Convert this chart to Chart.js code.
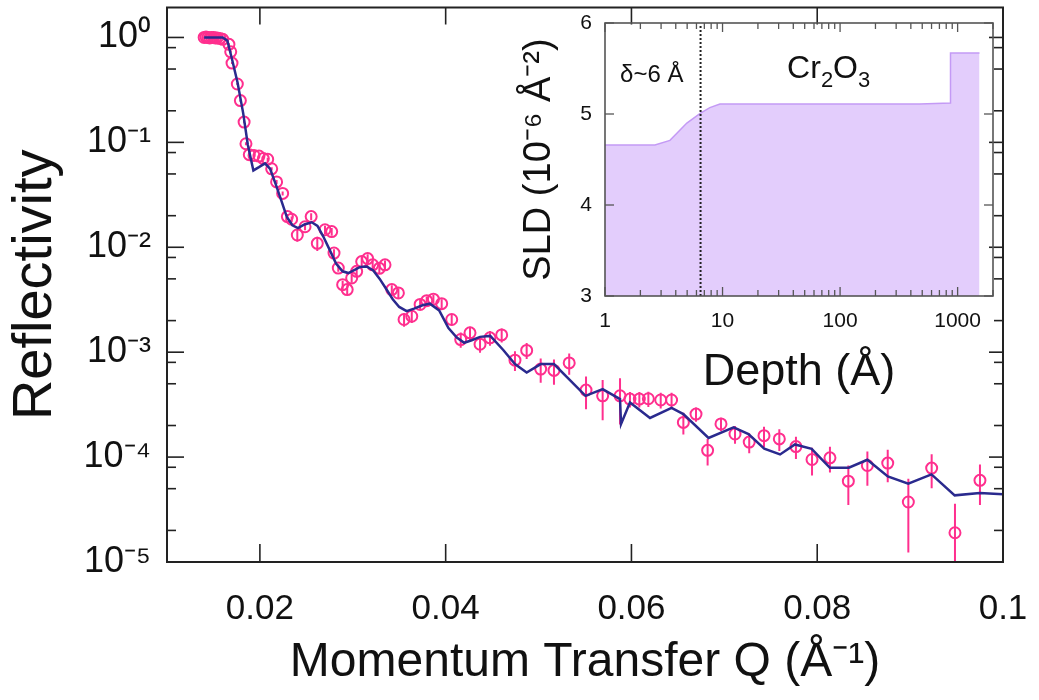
<!DOCTYPE html>
<html><head><meta charset="utf-8">
<script src="https://cdn.jsdelivr.net/npm/chart.js@4.4.0/dist/chart.umd.min.js"></script>
<style>
html,body{margin:0;padding:0;background:#fff;}
#wrap{position:relative;width:1039px;height:700px;overflow:hidden;}
#main{position:absolute;left:0;top:0;}
#inset{position:absolute;left:500px;top:0;}
</style></head><body>
<div id="wrap"><canvas id="main" width="1039" height="700"></canvas><canvas id="inset" width="539" height="420"></canvas></div>
<script>
// ---- main plot data: measured reflectivity ----
const qData = [0.0140,0.0142,0.0144,0.0146,0.0148,0.0150,0.0152,0.0154,0.0157,0.0160,
  0.01667,0.01686,0.0170,0.01757,0.0179,0.0183,0.0185,0.01886,0.01937,0.0199,
  0.02037,0.02084,0.02127,0.0218,0.02245,0.02296,0.02342,0.02403,0.02486,0.02552,
  0.02618,0.02701,0.02773,0.02798,0.02844,0.02891,0.0294,0.02988,0.03042,0.03096,
  0.0316,0.03214,0.03286,0.03347,0.0342,0.03491,0.03552,0.03635,0.03725,0.03796,
  0.03868,0.03957,0.04065,0.04162,0.04262,0.0437,0.04477,0.04603,0.04746,0.04872,
  0.05023,0.05166,0.0533,0.05511,0.0569,0.05877,0.05984,0.06085,0.06182,0.06315,
  0.06432,0.06559,0.06695,0.0682,0.06964,0.07115,0.07268,0.07427,0.07592,0.07771,
  0.07944,0.08137,0.08335,0.0854,0.08759,0.08981,0.09232,0.09483,0.09752];
const rData = [1.00,1.01,1.00,0.99,1.00,1.00,0.99,0.99,0.98,0.96,
  0.86,0.73,0.57,0.36,0.25,0.156,0.097,0.0764,0.075,0.074,
  0.070,0.069,0.056,0.042,0.0326,0.0196,0.0185,0.0131,0.0157,0.0196,
  0.0109,0.0147,0.0141,0.0088,0.00634,0.0044,0.00395,0.0051,0.0059,0.0073,
  0.0078,0.0068,0.0063,0.0068,0.00395,0.00367,0.00205,0.0022,0.00285,0.0031,
  0.0032,0.0029,0.00205,0.00132,0.00153,0.00119,0.00137,0.00146,0.00084,0.00104,
  0.00069,0.00067,0.00079,0.000435,0.000384,0.000384,0.000357,0.000357,0.00036,0.00035,
  0.00035,0.000214,0.000257,0.000116,0.000207,0.000166,0.000139,0.00016,0.000149,0.000126,
  0.0000948,0.0000984,0.000059,0.0000832,0.0000877,0.0000373,0.0000785,0.000019,0.00006];
const rErr = [0.02,0.02,0.02,0.02,0.02,0.02,0.02,0.02,0.02,0.02,
  0.02,0.015,0.012,0.008,0.006,0.004,0.003,0.0025,0.0025,0.0025,
  0.0025,0.0025,0.002,0.0018,0.0015,0.0012,0.0012,0.0018,0.0012,0.0015,
  0.0017,0.0013,0.0012,0.0008,0.0005,0.0004,0.0004,0.0005,0.0006,0.0008,
  0.0008,0.0007,0.0006,0.0007,0.0004,0.0004,0.0003,0.0003,0.0003,0.0003,
  0.0003,0.0003,0.00025,0.00022,0.00022,0.0002,0.00022,0.00022,0.00018,0.00018,
  0.00018,0.00018,0.00018,0.00015,0.00016,0.00018,0.00006,0.00006,0.00006,0.00006,
  0.00006,0.00005,0.00004,0.000033,0.00003,0.000032,0.00003,0.000035,0.000035,0.00003,
  0.000028,0.000027,0.000024,0.00003,0.00003,0.000025,0.000028,0.000017,0.000025];
// ---- main plot: model fit ----
const qFit = [0.0140,0.0160,0.0165,0.0170,0.0176,0.0182,0.0187,0.0193,0.0199,0.02055,
  0.0211,0.0217,0.0223,0.0229,0.0235,0.0241,0.0248,0.02558,0.0262,0.0268,
  0.0275,0.0282,0.0289,0.02952,0.0302,0.0308,0.0315,0.0322,0.0329,0.0336,
  0.0343,0.0350,0.0358,0.0366,0.0375,0.0383,0.0393,0.0403,0.0412,0.0420,
  0.0428,0.0437,0.0448,0.0462,0.04746,0.04872,0.05023,0.05166,0.05506,0.0569,
  0.05877,0.05888,0.05984,0.0620,0.06432,0.06559,0.0683,0.0710,0.0726,0.0743,
  0.0760,0.0776,0.0794,0.08137,0.0834,0.0854,0.0876,0.0898,0.0923,0.0948,
  0.0975,0.1000];
const rFit = [1.0,1.0,0.93,0.62,0.37,0.19,0.095,0.054,0.058,0.063,
  0.056,0.040,0.028,0.0195,0.0162,0.0152,0.0165,0.0173,0.0160,0.0128,
  0.0095,0.0070,0.0059,0.00568,0.0061,0.0065,0.00657,0.0060,0.0050,0.0040,
  0.0032,0.0027,0.00246,0.0026,0.0028,0.0029,0.0025,0.0017,0.00138,0.00123,
  0.00130,0.00140,0.00143,0.00105,0.00077,0.00064,0.00077,0.00077,0.000384,0.000445,
  0.000357,0.000207,0.000332,0.000236,0.000294,0.000257,0.000152,0.000192,0.000166,0.00012,
  0.000106,0.000132,0.00012,0.0000791,0.0000791,0.0000942,0.0000655,0.0000558,0.0000684,0.0000432,
  0.0000455,0.0000443];
const yTickValues = [1e-5,1e-4,1e-3,1e-2,1e-1,1];
const yTickLabels = ['10\u207B\u2075','10\u207B\u2074','10\u207B\u00B3','10\u207B\u00B2','10\u207B\u00B9','10\u2070'];
const yMinorFactors = [0.8,0.5,0.2];
const xTickValues = [0.02,0.04,0.06,0.08,0.1];
const xTickLabels = ['0.02','0.04','0.06','0.08','0.1'];
// ---- inset: SLD depth profile ----
const depth = [1,2.66,3.57,4.97,6.5,7.8,9.5,475,870,870,1535];
const sld   = [4.66,4.66,4.71,4.90,5.01,5.07,5.11,5.11,5.12,5.67,5.67];
const interfaceDepth = [6.5,6.5];
const interfaceSld = [3,5.98];
const depthTicks = [1,10,100,1000];
const depthTickLabels = ['1','10','100','1000'];
const sldTicks = [3,4,5,6];

const SANS = "'Liberation Sans',Arial,sans-serif";

function line(ctx,x1,y1,x2,y2){ctx.beginPath();ctx.moveTo(x1,y1);ctx.lineTo(x2,y2);ctx.stroke();}
function noPad(s){s.paddingTop=0;s.paddingBottom=0;s.paddingLeft=0;s.paddingRight=0;}

const mainDeco = {
  id:'mainDeco',
  beforeDatasetsDraw(chart){
    const {ctx, chartArea:a, scales:{x,y}} = chart;
    ctx.save();
    ctx.beginPath(); ctx.rect(a.left,a.top,a.right-a.left,a.bottom-a.top); ctx.clip();
    ctx.strokeStyle = '#ff2f8e'; ctx.lineWidth = 2;
    qData.forEach((q,i)=>{
      const px = x.getPixelForValue(q);
      const hi = rData[i]+rErr[i];
      const lo = Math.max(rData[i]-rErr[i], 1e-7);
      line(ctx,px,y.getPixelForValue(hi),px,y.getPixelForValue(lo));
    });
    ctx.restore();
  },
  afterDraw(chart){
    const {ctx, chartArea:a, scales:{x,y}} = chart;
    ctx.save();
    ctx.strokeStyle = '#222'; ctx.lineWidth = 1.6;
    xTickValues.forEach(v=>{const px=x.getPixelForValue(v); line(ctx,px,a.bottom,px,a.bottom-18); line(ctx,px,a.top,px,a.top+17);});
    yTickValues.forEach(v=>{
      const py=y.getPixelForValue(v);
      line(ctx,a.left,py,a.left+17,py); line(ctx,a.right,py,a.right-14,py);
      yMinorFactors.forEach(m=>{
        const val=v*m; if(val<y.min) return;
        const pm=y.getPixelForValue(val);
        line(ctx,a.left,pm,a.left+9,pm); line(ctx,a.right,pm,a.right-9,pm);
      });
    });
    ctx.lineWidth = 2;
    ctx.strokeRect(a.left,a.top,a.right-a.left,a.bottom-a.top);
    ctx.restore();
  }
};

new Chart(document.getElementById('main'), {
  type:'scatter',
  data:{datasets:[
    {type:'line', label:'fit', data:qFit.map((q,i)=>({x:q,y:rFit[i]})), borderColor:'#2a2a8e', borderWidth:2.5, pointRadius:0, fill:false, tension:0, order:0},
    {label:'data', data:qData.map((q,i)=>({x:q,y:rData[i]})), borderColor:'#ff2f8e', backgroundColor:'rgba(0,0,0,0)', pointRadius:5.5, pointBorderWidth:2, pointBackgroundColor:'rgba(0,0,0,0)', order:1}
  ]},
  options:{
    responsive:false, animation:false, devicePixelRatio:1,
    layout:{padding:{top:5,right:36,left:0,bottom:0}},
    plugins:{legend:{display:false}, tooltip:{enabled:false}},
    scales:{
      x:{type:'linear', min:0.01, max:0.1,
        afterBuildTicks:s=>{s.ticks=xTickValues.map(v=>({value:v}));},
        afterFit:s=>{s.height=138; noPad(s);},
        grid:{display:false, drawTicks:false}, border:{display:false},
        ticks:{padding:26, color:'#111', font:{family:SANS, size:35}, maxRotation:0, autoSkip:false,
          callback:(v)=>xTickLabels[xTickValues.indexOf(v)]},
        title:{display:true, text:'Momentum Transfer Q (\u00C5\u207B\u00B9)', color:'#111', font:{family:SANS, size:48}, padding:{top:0,bottom:8}}
      },
      y:{type:'logarithmic', min:1e-5, max:1.93,
        afterBuildTicks:s=>{s.ticks=yTickValues.map(v=>({value:v}));},
        afterFit:s=>{s.width=167; noPad(s);},
        grid:{display:false, drawTicks:false}, border:{display:false},
        ticks:{padding:16, color:'#111', font:{family:SANS, size:36}, autoSkip:false,
          callback:(v)=>yTickLabels[yTickValues.indexOf(v)]},
        title:{display:true, text:'Reflectivity', color:'#111', font:{family:SANS, size:56}, padding:{top:2,bottom:0}}
      }
    }
  },
  plugins:[mainDeco]
});

const insetDeco = {
  id:'insetDeco',
  afterDraw(chart){
    const {ctx, chartArea:a, scales:{x,y}} = chart;
    ctx.save();
    ctx.strokeStyle = '#555'; ctx.lineWidth = 1.3;
    for(let d=1; d<=1000; d*=10){
      for(let k=1;k<=9;k++){
        const v=d*k; if(v>x.max) break;
        const px=x.getPixelForValue(v);
        const len = k===1 ? 9 : 6;
        line(ctx,px,a.bottom,px,a.bottom-len); line(ctx,px,a.top,px,a.top+len);
      }
    }
    sldTicks.forEach(v=>{const py=y.getPixelForValue(v); line(ctx,a.left,py,a.left+9,py); line(ctx,a.right,py,a.right-9,py);});
    ctx.lineWidth = 1.6;
    ctx.strokeRect(a.left,a.top,a.right-a.left,a.bottom-a.top);
    // annotations
    ctx.fillStyle = '#111'; ctx.textBaseline = 'alphabetic';
    ctx.font = "24px " + SANS; ctx.textAlign = 'center';
    ctx.fillText('\u03B4~6 \u00C5', x.getPixelForValue(2.5), y.getPixelForValue(5.35));
    // Cr2O3 with subscripts
    const bx = x.getPixelForValue(80), by = y.getPixelForValue(5.40);
    const big = "32px " + SANS, small = "22px " + SANS;
    const parts = [['Cr',big,0],['2',small,9],['O',big,0],['3',small,9]];
    let total = 0;
    parts.forEach(p=>{ctx.font=p[1]; total+=ctx.measureText(p[0]).width;});
    let cx = bx - total/2; ctx.textAlign='left';
    parts.forEach(p=>{ctx.font=p[1]; ctx.fillText(p[0],cx,by+p[2]); cx+=ctx.measureText(p[0]).width;});
    ctx.restore();
  }
};

new Chart(document.getElementById('inset'), {
  type:'scatter',
  data:{datasets:[
    {type:'line', label:'SLD', data:depth.map((d,i)=>({x:d,y:sld[i]})), borderColor:'#c49af5', borderWidth:1.5, backgroundColor:'#e3cdfc', fill:'start', pointRadius:0, tension:0, order:1},
    {type:'line', label:'interface', data:interfaceDepth.map((d,i)=>({x:d,y:interfaceSld[i]})), borderColor:'#222', borderWidth:2, borderDash:[2,2], pointRadius:0, fill:false, order:0}
  ]},
  options:{
    responsive:false, animation:false, devicePixelRatio:1,
    layout:{padding:{top:23,right:46,left:0,bottom:0}},
    plugins:{legend:{display:false}, tooltip:{enabled:false}},
    scales:{
      x:{type:'logarithmic', min:1, max:2000,
        afterBuildTicks:s=>{s.ticks=depthTicks.map(v=>({value:v}));},
        afterFit:s=>{s.height=124; noPad(s);},
        grid:{display:false, drawTicks:false}, border:{display:false},
        ticks:{padding:13, color:'#111', font:{family:SANS, size:21}, maxRotation:0, autoSkip:false,
          callback:(v)=>depthTickLabels[depthTicks.indexOf(v)]},
        title:{display:true, text:'Depth (\u00C5)', color:'#111', font:{family:SANS, size:45}, padding:{top:0,bottom:20}}
      },
      y:{type:'linear', min:3, max:6,
        afterBuildTicks:s=>{s.ticks=sldTicks.map(v=>({value:v}));},
        afterFit:s=>{s.width=105; noPad(s);},
        grid:{display:false, drawTicks:false}, border:{display:false},
        ticks:{padding:13, color:'#111', font:{family:SANS, size:21}, autoSkip:false,
          callback:(v)=>String(v)},
        title:{display:true, text:'SLD (10\u207B\u2076 \u00C5\u207B\u00B2)', color:'#111', font:{family:SANS, size:38}, padding:{top:17,bottom:0}}
      }
    }
  },
  plugins:[insetDeco]
});
</script>
</body></html>
